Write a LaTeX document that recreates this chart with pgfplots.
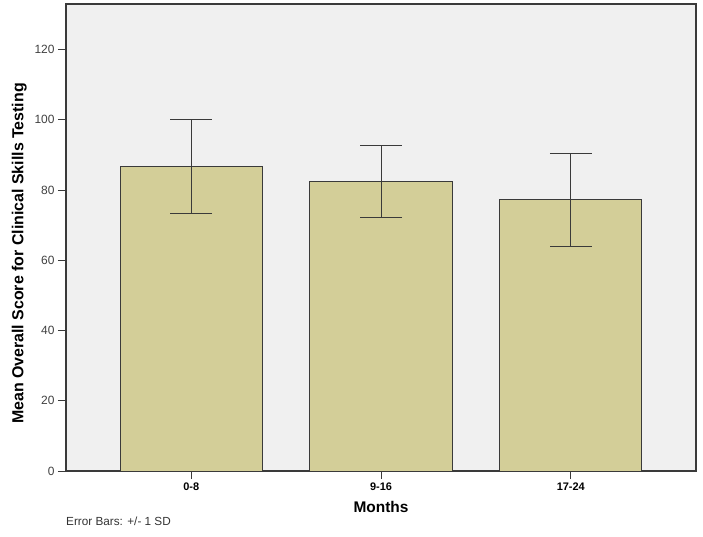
\documentclass[border=0pt]{standalone}
\usepackage{pgfplots}
\pgfplotsset{compat=1.18}
\usepackage{fontspec}
\setmainfont{Liberation Sans}
\definecolor{plotbg}{HTML}{F0F0F0}
\definecolor{barfill}{HTML}{D3CE98}
\definecolor{frame}{HTML}{3A3A3A}
\begin{document}
\begin{tikzpicture}
\begin{axis}[
  scale only axis,
  width=630bp, height=467bp,
  xmin=0.34, xmax=3.66,
  ymin=0, ymax=133,
  axis background/.style={fill=plotbg},
  axis line style={frame, line width=1.1pt},
  xtick={1,2,3},
  xticklabels={0-8,9-16,17-24},
  ytick={0,20,40,60,80,100,120},
  tick align=outside,
  tick pos=left,
  major tick length=8bp,
  tick style={frame, line width=0.9pt},
  xticklabel style={font=\fontsize{11}{13}\selectfont\bfseries, yshift=0bp},
  yticklabel style={font=\fontsize{12}{14}\selectfont, text=black!75},
  /pgf/number format/assume math mode=true,
  xlabel={\textbf{Months}},
  ylabel={\textbf{Mean Overall Score for Clinical Skills Testing}},
  xlabel style={font=\fontsize{15.5}{18}\selectfont, yshift=-4bp},
  ylabel style={font=\fontsize{16}{18}\selectfont, xshift=-16bp, yshift=1bp},
]
\addplot[ybar, bar width=0.75, fill=barfill, draw=frame, line width=0.9pt,
  error bars/.cd, y dir=both, y explicit,
  error bar style={frame, line width=1pt},
  error mark options={rotate=90, mark size=21bp, line width=1pt, frame}]
  coordinates {
  (1,86.7) +- (0,13.3)
  (2,82.5) +- (0,10.25)
  (3,77.2) +- (0,13.3)
  };
\end{axis}
\path ([xshift=-66bp,yshift=-66bp]current axis.south west) rectangle ([xshift=7bp,yshift=4bp]current axis.north east);
\node[anchor=west, inner sep=0pt, font=\fontsize{11.8}{14}\selectfont, text=black!80] at ([yshift=-50bp]current axis.south west) {Error Bars: +/- 1 SD};
\end{tikzpicture}
\end{document}
